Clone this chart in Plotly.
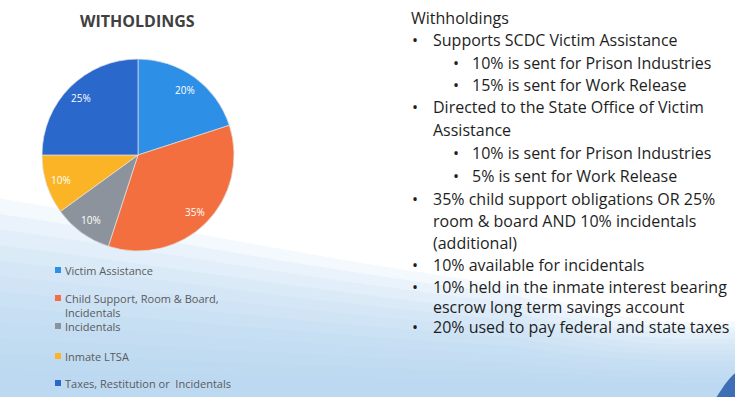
import math
import plotly.graph_objects as go

labels = ["Victim Assistance", "Child Support, Room & Board,<br>Incidentals", "Incidentals",
          "Inmate LTSA", "Taxes, Restitution or  Incidentals"]
values = [20, 35, 10, 10, 25]
colors = ["#2E8FE6", "#F46F3F", "#8D939C", "#FBB425", "#2A68CC"]

title_text = "WITHOLDINGS"

text_lines = [
    (0, "Withholdings"),
    (1, "Supports SCDC Victim Assistance"),
    (2, "10% is sent for Prison Industries"),
    (2, "15% is sent for Work Release"),
    (1, "Directed to the State Office of Victim"),
    (-1, "Assistance"),
    (2, "10% is sent for Prison Industries"),
    (2, "5% is sent for Work Release"),
    (1, "35% child support obligations OR 25%"),
    (-1, "room & board AND 10% incidentals"),
    (-1, "(additional)"),
    (1, "10% available for incidentals"),
    (1, "10% held in the inmate interest bearing"),
    (-1, "escrow long term savings account"),
    (1, "20% used to pay federal and state taxes"),
]

W, H = 735, 397
# pie geometry (pixels)
cx, cy, R = 138, 155, 96

fig = go.Figure()
fig.add_trace(go.Pie(
    labels=labels, values=values, sort=False, direction="clockwise", rotation=0,
    marker=dict(colors=colors, line=dict(color="rgba(225,225,225,0.7)", width=1)),
    textinfo="none", showlegend=False,
    domain=dict(x=[(cx - R) / W, (cx + R) / W], y=[1 - (cy + R) / H, 1 - (cy - R) / H]),
))

# background wave (many faint layered bands imitate a soft gradient)
shapes = []
n_bands = 12
for i in range(n_bands):
    f = 1 - i / n_bands  # 1 .. small
    yl = 0.03 + 0.47 * f      # left edge height
    ym = 0.02 + 0.26 * f      # middle height
    yr = 0.02 + 0.17 * f      # right edge height
    path = (f"M 0 {yl:.3f} C 0.2 {yl - 0.06 * f:.3f}, 0.45 {ym + 0.06 * f:.3f}, 0.7 {ym:.3f} "
            f"C 0.85 {yr - 0.02 * f:.3f}, 0.95 {yr:.3f}, 1 {yr:.3f} L 1 0 L 0 0 Z")
    shapes.append(dict(type="path", xref="paper", yref="paper", layer="below",
                       path=path, fillcolor="rgba(175,212,238,0.14)", line=dict(width=0)))
shapes.append(dict(type="path", xref="paper", yref="paper", layer="below",
                   path="M 0.975 0 C 0.985 0.03, 0.993 0.05, 1 0.06 L 1 0 Z",
                   fillcolor="rgba(40,90,170,0.85)", line=dict(width=0)))

annotations = [dict(text="<b>" + title_text + "</b>", x=137 / W, y=1 - 21 / H, xref="paper", yref="paper",
                    showarrow=False, font=dict(size=16, color="#404040", family="Open Sans"),
                    xanchor="center", yanchor="middle")]

# percentage labels on slices (placed at 0.84 R along each slice's mid-angle)
total = sum(values)
cum = 0
for v in values:
    mid = (cum + v / 2) / total * 2 * math.pi
    cum += v
    px = cx + 0.84 * R * math.sin(mid)
    py = cy - 0.84 * R * math.cos(mid)
    annotations.append(dict(text=f"{round(100 * v / total)}%", x=px / W, y=1 - py / H,
                            xref="paper", yref="paper", showarrow=False,
                            xanchor="center", yanchor="middle",
                            font=dict(size=10, color="white", family="Open Sans")))

# legend
leg_y = [270, 305, 326, 356, 383]
for lab, col, yy in zip(labels, colors, leg_y):
    nlines = lab.count("<br>") + 1
    top_line_y = yy - (nlines - 1) * 14 / 2
    shapes.append(dict(type="rect", xref="paper", yref="paper",
                       x0=55 / W, x1=61 / W, y0=1 - (top_line_y + 3) / H, y1=1 - (top_line_y - 3) / H,
                       fillcolor=col, line=dict(width=0)))
    annotations.append(dict(text=lab, x=63 / W, y=1 - yy / H, xref="paper", yref="paper",
                            showarrow=False, xanchor="left", yanchor="middle", align="left",
                            font=dict(size=11, color="#5a5a5a", family="Open Sans")))

line_y = [18, 40, 63, 85, 107, 130, 153, 176, 199, 221, 243, 265, 287, 307, 327]
font_r = dict(size=16, color="#1e1e1e", family="Open Sans")
for (lvl, txt), yy in zip(text_lines, line_y):
    yp = 1 - yy / H
    if lvl == 0:
        items = [(409, txt)]
    elif lvl == 1:
        items = [(410, "•"), (431, txt)]
    elif lvl == -1:
        items = [(431, txt)]
    else:
        items = [(451, "•"), (470, txt)]
    for xx, t in items:
        annotations.append(dict(text=t, x=xx / W, y=yp, xref="paper", yref="paper",
                                showarrow=False, xanchor="left", yanchor="middle", font=font_r))

fig.update_layout(
    width=W, height=H, margin=dict(l=0, r=0, t=0, b=0),
    paper_bgcolor="white", plot_bgcolor="white",
    shapes=shapes, annotations=annotations,
)

fig.write_html("out.html")
